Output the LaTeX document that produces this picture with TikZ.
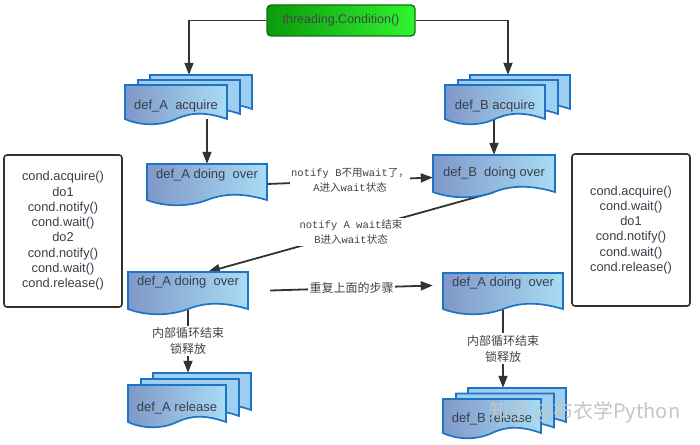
\documentclass[tikz,border=0pt]{standalone}
\usepackage{fontspec}
\setmainfont{Liberation Sans}
\newfontfamily\cjk{Noto Sans CJK SC}
\newfontfamily\monof{Liberation Mono}
\usetikzlibrary{arrows.meta}
\pgfdeclarelayer{bottom}
\pgfdeclarelayer{background}
\pgfsetlayers{bottom,background,main}
\definecolor{docL}{HTML}{7F98C8}
\definecolor{docR}{HTML}{A8DCF4}
\definecolor{docB}{HTML}{1E74C4}
\definecolor{sheet}{HTML}{9ECFF0}
\definecolor{txt}{HTML}{3A3F4A}
\definecolor{lnk}{HTML}{333333}
\definecolor{lbltxt}{HTML}{444444}
\definecolor{gL}{HTML}{0C9A0C}
\definecolor{gR}{HTML}{2EF52E}
\definecolor{gB}{HTML}{127012}
\tikzset{
  docfill/.style={left color=docL, right color=docR, draw=docB, line width=1.7pt},
  sheetfill/.style={fill=sheet, draw=docB, line width=1.7pt},
  docbox/.style={draw=none, inner sep=0pt},
  doctext/.style={text=txt, font=\fontsize{13}{15}\selectfont, inner sep=0pt},
  conn/.style={draw=lnk, line width=1.8pt, -{Triangle[length=12pt,width=9pt]}},
  lbl/.style={fill=white, text=lbltxt, align=center, inner sep=1.5pt, font=\fontsize{10.5}{15}\selectfont},
  cjklbl/.style={fill=white, text=lbltxt, align=center, inner sep=1.5pt, font=\cjk\fontsize{12}{16}\selectfont},
  codebox/.style={draw=lnk, line width=1.6pt, rounded corners=3pt, align=center, text=txt,
    font=\fontsize{12.8}{15.3}\selectfont, minimum width=118pt, minimum height=152pt, inner sep=0pt},
  greenbox/.style={draw=gB, line width=1.3pt, rounded corners=4pt, left color=gL, right color=gR,
    text=lbltxt, font=\fontsize{12.5}{14}\selectfont, minimum width=148pt, minimum height=31pt, inner sep=0pt},
  wmark/.style={text=gray!45, font=\cjk\fontsize{20}{24}\selectfont, inner sep=0pt}
}
% x0, y0, w, h, style
\newcommand{\wavepath}[5]{\path[#5] ({#1},{#2}) -- ({#1+#3},{#2}) -- ({#1+#3},{#2+#4})
  .. controls ({#1+0.8*#3},{#2+#4-7}) and ({#1+0.65*#3},{#2+#4-7}) .. ({#1+0.5*#3},{#2+#4})
  .. controls ({#1+0.35*#3},{#2+#4+7}) and ({#1+0.15*#3},{#2+#4+7}) .. ({#1},{#2+#4}) -- cycle;}
% name, x0, y0, w, h, text, text offset
\newcommand{\docnode}[7]{%
  \wavepath{#2}{#3}{#4}{#5}{docfill}
  \node[docbox, minimum width=#4pt, minimum height=#5pt] (#1) at ({#2+#4/2},{#3+#5/2}) {};
  \node[doctext] (#1-t) at ({#2+#4/2},{#3+#7}) {#6};}
% name, x0, y0, w, h, text, text offset, dy step
\newcommand{\stacknode}[8]{%
  \wavepath{#2+25}{#3-2*#8}{#4}{#5}{sheetfill}
  \node[docbox, minimum width=#4pt, minimum height=#5pt] (#1-b) at ({#2+25+#4/2},{#3-2*#8+#5/2}) {};
  \wavepath{#2+13}{#3-#8}{#4}{#5}{sheetfill}
  \docnode{#1}{#2}{#3}{#4}{#5}{#6}{#7}}
\begin{document}
\begin{tikzpicture}[x=1pt,y=-1pt]
\useasboundingbox (0,0) rectangle (700,444);
\begin{pgfonlayer}{bottom}
\fill[white] (0,0) rectangle (700,444);
\end{pgfonlayer}

\node[greenbox] (cond) at (341,20.5) {threading.Condition()};

\stacknode{aacq}{125}{85}{102}{34}{def\_A\ \ acquire}{21}{5}
\stacknode{bacq}{445}{85}{100}{34}{def\_B acquire}{21}{5}
\docnode{A1}{147}{164}{120}{36}{def\_A doing\ \ over}{11}
\docnode{B1}{433}{155}{122}{37}{def\_B\ \ doing over}{18}
\docnode{A2}{128}{272}{120}{37}{def\_A doing\ \ over}{10}
\docnode{A3}{443}{273}{120}{36}{def\_A doing\ \ over}{10}
\stacknode{arel}{128}{385}{98}{37}{def\_A release}{23}{6}
\stacknode{brel}{443}{399}{98}{34}{def\_B release}{20}{5.5}

\node[codebox] (codeA) at (63,231) {cond.acquire()\\do1\\cond.notify()\\cond.wait()\\do2\\cond.notify()\\cond.wait()\\cond.release()};
\node[codebox] (codeB) at (631,230) {cond.acquire()\\cond.wait()\\do1\\cond.notify()\\cond.wait()\\cond.release()};

\begin{pgfonlayer}{background}
\draw[conn] (cond.west) -| ([xshift=-12pt]aacq-b.north);
\draw[conn] (cond.east) -| ([xshift=-12pt]bacq-b.north);
\draw[conn] (A1.north |- aacq.south) -- (A1.north);
\draw[conn] (B1.north |- bacq.south) -- (B1.north);
\draw[conn] ([yshift=-2pt]A1.east) -- node[lbl] (l1) {{\monof notify B}{\cjk 不用}{\monof wait}{\cjk 了，}\\{\monof A}{\cjk 进入}{\monof wait}{\cjk 状态}} ([yshift=-4pt]B1.west);
\draw[conn] (B1.south) -- node[lbl] (l2) {{\monof notify A wait}{\cjk 结束}\\{\monof B}{\cjk 进入}{\monof wait}{\cjk 状态}} ([xshift=20pt]A2.north);
\draw[conn] ([xshift=22pt]A2.east) -- node[cjklbl] (l3) {重复上面的步骤} ([xshift=-10pt,yshift=5.5pt]A3.west);
\draw[conn] (A2.south) -- node[cjklbl] (l4) {内部循环结束\\锁释放} (A2.south |- arel-b.north);
\draw[conn] (A3.south) -- node[cjklbl] (l5) {内部循环结束\\锁释放} (A3.south |- brel-b.north);
\end{pgfonlayer}

\node[wmark] (wm) at (585,412) {知乎 @布衣学Python};
\end{tikzpicture}
\end{document}
